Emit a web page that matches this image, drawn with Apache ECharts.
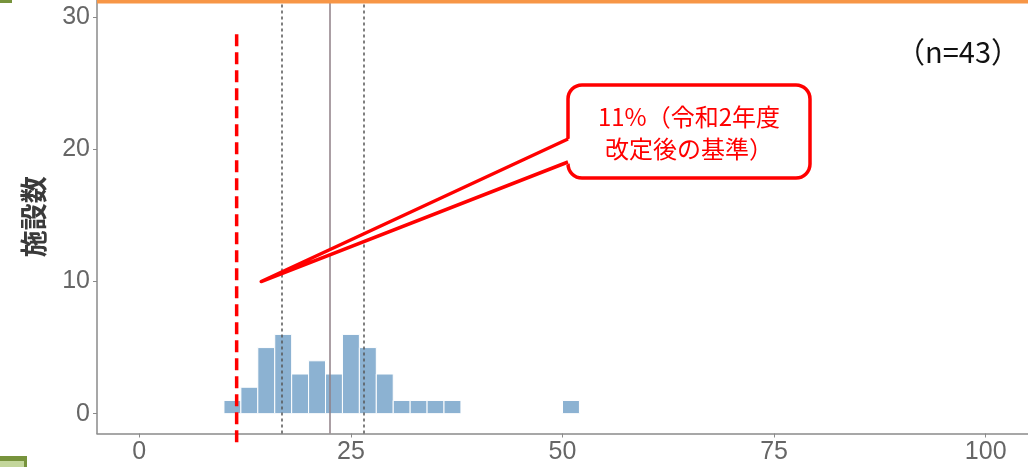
<!DOCTYPE html>
<html><head><meta charset="utf-8">
<script src="https://cdn.jsdelivr.net/npm/echarts@6/dist/echarts.min.js"></script>
<style>html,body{margin:0;padding:0;background:#fff}#c{width:1028px;height:467px}</style>
</head><body><div id="c"></div>
<script>
// ---- data ----
const binStarts = [10, 12, 14, 16, 18, 20, 22, 24, 26, 28, 30, 32, 34, 36, 50];
const binCounts = [1, 2, 5, 6, 3, 4, 3, 6, 5, 3, 1, 1, 1, 1, 1];
const binWidth = 2;
const xTicks = [0, 25, 50, 75, 100];
const yTicks = [0, 10, 20, 30];
const quartileLines = [16.8, 26.5];
const medianLine = [22.5];
const criterionX = 11.5;
const calloutLines = ['11%（令和2年度', '改定後の基準）'];
const nLabel = '（n=43）';
const yName = '施設数';

const chart = echarts.init(document.getElementById('c'), null, {renderer: 'canvas'});
const axisGray = '#8a8a8a';
const numFont = "'Liberation Sans', Arial, sans-serif";
const jpFont = "'Noto Sans CJK JP', sans-serif";

const markData = quartileLines.map(v => ({xAxis: v, lineStyle: {type: [3, 3], color: '#555', width: 1.5}}))
  .concat(medianLine.map(v => ({xAxis: v, lineStyle: {type: 'solid', color: '#8f7f86', width: 1.5}})));

chart.setOption({
  animation: false,
  backgroundColor: '#ffffff',
  grid: {left: 97, top: 0, width: 932, height: 433.5, containLabel: false},
  xAxis: {
    type: 'value', min: -5, max: 105,
    axisLine: {show: true, onZero: false, lineStyle: {color: axisGray, width: 1.5}},
    axisTick: {show: true, customValues: xTicks, length: 4, lineStyle: {color: axisGray, width: 1}},
    axisLabel: {customValues: xTicks, fontSize: 25, color: '#666', fontFamily: numFont, margin: 6},
    splitLine: {show: false}
  },
  yAxis: {
    type: 'value', min: -1.5, max: 31.3,
    name: yName, nameLocation: 'middle', nameRotate: 90, nameGap: 50,
    nameTextStyle: {fontSize: 27, color: '#3a3a3a', fontFamily: jpFont, fontWeight: 'bold'},
    axisLine: {show: true, onZero: false, lineStyle: {color: axisGray, width: 1.5}},
    axisTick: {show: true, customValues: yTicks, length: 4, lineStyle: {color: axisGray, width: 1}},
    axisLabel: {customValues: yTicks, fontSize: 25, color: '#666', fontFamily: numFont, margin: 7},
    splitLine: {show: false}
  },
  series: [{
    type: 'custom',
    data: binStarts.map((s, i) => [s, binCounts[i]]),
    encode: {x: 0, y: 1},
    renderItem: function (params, api) {
      const s = api.value(0), c = api.value(1);
      const p0 = api.coord([s, 0]);
      const p1 = api.coord([s + binWidth, c]);
      return {
        type: 'rect',
        shape: {x: p0[0], y: p1[1], width: p1[0] - p0[0], height: p0[1] - p1[1]},
        style: {fill: '#8cb2d2', stroke: '#ffffff', lineWidth: 1}
      };
    },
    markLine: {
      silent: true, symbol: 'none', label: {show: false},
      data: markData
    }
  }]
});

const cx = chart.convertToPixel({xAxisIndex: 0}, criterionX);
const yTop = chart.convertToPixel({yAxisIndex: 0}, 28.7);
const yBot = chart.convertToPixel({yAxisIndex: 0}, -2.4);
const tip = chart.convertToPixel({gridIndex: 0}, [14.4, 10]);

const bx = 568, by = 85, bw = 242, bh = 93;
const tailA = [bx, 139], tailB = [bx, 162];

chart.setOption({
  graphic: [
    {type: 'rect', shape: {x: 97, y: 0, width: 931, height: 3.5}, style: {fill: '#F79646'}, z: 100},
    {type: 'rect', shape: {x: 0, y: 0, width: 12, height: 3}, style: {fill: '#77933C'}, z: 100},
    {type: 'rect', shape: {x: 0, y: 456, width: 27, height: 11}, style: {fill: '#77933C'}, z: 100},
    {type: 'rect', shape: {x: 0, y: 461, width: 24, height: 6}, style: {fill: '#C3D69B'}, z: 101},
    {type: 'line', shape: {x1: cx, y1: yTop, x2: cx, y2: yBot},
      style: {stroke: '#ff0000', lineWidth: 3.5, lineDash: [12, 6]}, z: 100},
    {type: 'rect', shape: {x: bx, y: by, width: bw, height: bh, r: 14},
      style: {fill: '#ffffff', stroke: '#ff0000', lineWidth: 3.5}, z: 100},
    {type: 'polygon', shape: {points: [[bx + 3, tailA[1] - 1], tip, [bx + 3, tailB[1] + 1]]},
      style: {fill: '#ffffff'}, z: 101},
    {type: 'polyline', shape: {points: [tailA, tip, tailB]},
      style: {stroke: '#ff0000', lineWidth: 3.5, fill: null, lineJoin: 'round'}, z: 102},
    {type: 'text', x: bx + bw / 2, y: 117, z: 103,
      style: {text: calloutLines[0], fill: '#ff0000', font: "24px 'Noto Sans CJK JP', sans-serif", textAlign: 'center', textVerticalAlign: 'middle'}},
    {type: 'text', x: bx + bw / 2, y: 149, z: 103,
      style: {text: calloutLines[1], fill: '#ff0000', font: "24px 'Noto Sans CJK JP', sans-serif", textAlign: 'center', textVerticalAlign: 'middle'}},
    {type: 'text', x: 958, y: 52, z: 103,
      style: {text: nLabel, fill: '#111', font: "29px 'Noto Sans CJK JP', sans-serif", textAlign: 'center', textVerticalAlign: 'middle'}}
  ]
});
</script>
</body></html>
